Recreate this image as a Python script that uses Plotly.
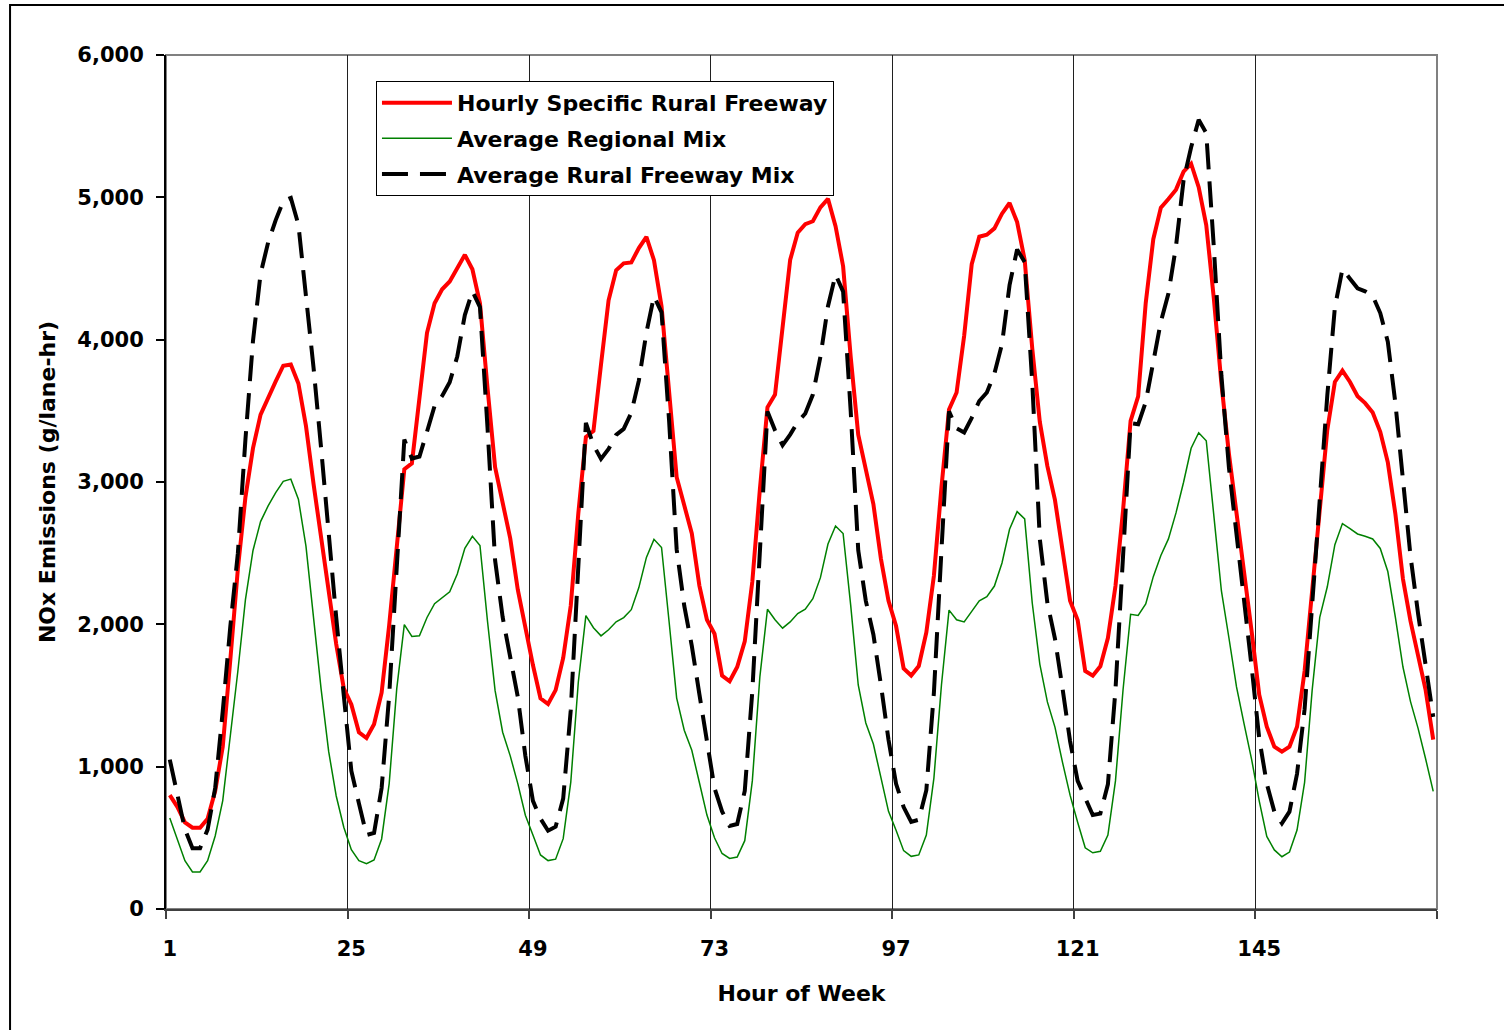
import plotly.graph_objects as go

# ---------------- data ----------------
hours = list(range(1, 169))

hourly_specific_rural_freeway = [
    800, 718, 609, 571, 571, 634, 828, 1140, 1750, 2390, 2894, 3238, 3473, 3582, 3707, 3817, 3826, 3692, 3394, 2987, 2612, 2205, 1861, 1550,
    1437, 1242, 1201, 1298, 1520, 1993, 2548, 3090, 3131, 3600, 4048, 4256, 4354, 4409, 4501, 4596, 4495, 4256, 3660, 3104, 2854, 2604, 2243, 1965,
    1714, 1480, 1440, 1538, 1764, 2131, 2780, 3316, 3358, 3825, 4276, 4488, 4536, 4543, 4643, 4722, 4558, 4234, 3655, 3034, 2836, 2639, 2272, 2032,
    1934, 1640, 1600, 1700, 1880, 2300, 2950, 3525, 3614, 4117, 4560, 4752, 4811, 4832, 4930, 4989, 4797, 4516, 3880, 3333, 3082, 2845, 2460, 2165,
    1988, 1690, 1640, 1707, 1943, 2342, 2963, 3510, 3629, 4028, 4530, 4723, 4737, 4782, 4885, 4960, 4826, 4560, 3939, 3422, 3111, 2874, 2520, 2165,
    2030, 1672, 1639, 1705, 1904, 2269, 2799, 3429, 3601, 4258, 4706, 4928, 4988, 5054, 5180, 5236, 5071, 4805, 4291, 3694, 3197, 2799, 2401, 1950,
    1506, 1281, 1140, 1105, 1140, 1281, 1672, 2264, 2802, 3366, 3703, 3783, 3703, 3603, 3554, 3488, 3353, 3138, 2775, 2318, 2022, 1780, 1538, 1190,
]

average_regional_mix = [
    640, 495, 339, 260, 260, 339, 513, 762, 1201, 1672, 2174, 2519, 2722, 2832, 2926, 3005, 3020, 2879, 2550, 2048, 1546, 1107, 794, 574,
    417, 340, 318, 345, 492, 881, 1548, 1998, 1915, 1920, 2048, 2145, 2187, 2229, 2354, 2534, 2618, 2554, 2020, 1534, 1242, 1076, 881, 659,
    520, 380, 340, 350, 494, 889, 1595, 2061, 1976, 1919, 1962, 2018, 2047, 2103, 2258, 2470, 2597, 2540, 2018, 1482, 1256, 1115, 889, 660,
    500, 390, 355, 365, 480, 900, 1633, 2106, 2032, 1973, 2017, 2076, 2106, 2180, 2328, 2564, 2691, 2638, 2135, 1574, 1307, 1159, 923, 686,
    553, 410, 370, 380, 520, 920, 1574, 2100, 2032, 2017, 2091, 2165, 2194, 2269, 2431, 2668, 2792, 2741, 2150, 1721, 1455, 1278, 1030, 800,
    610, 430, 395, 405, 520, 900, 1539, 2070, 2063, 2143, 2335, 2484, 2600, 2783, 2998, 3237, 3346, 3290, 2766, 2236, 1904, 1560, 1300, 1050,
    760, 510, 415, 367, 400, 555, 890, 1538, 2049, 2264, 2560, 2708, 2673, 2635, 2619, 2600, 2533, 2371, 2049, 1700, 1457, 1269, 1054, 826,
]

average_rural_freeway_mix = [
    1050, 794, 560, 427, 427, 558, 850, 1389, 1985, 2500, 3300, 3993, 4463, 4683, 4840, 4974, 4996, 4808, 4338, 3805, 3240, 2613, 2048, 1500,
    970, 742, 520, 534, 850, 1500, 2382, 3298, 3165, 3179, 3354, 3534, 3604, 3701, 3882, 4173, 4340, 4229, 3380, 2450, 2050, 1770, 1490, 1076,
    760, 635, 550, 578, 776, 1397, 2441, 3415, 3260, 3162, 3232, 3331, 3373, 3486, 3712, 4050, 4305, 4192, 3429, 2526, 2131, 1849, 1510, 1171,
    850, 686, 583, 597, 830, 1530, 2520, 3496, 3363, 3259, 3333, 3422, 3481, 3614, 3880, 4235, 4457, 4338, 3500, 2520, 2165, 1929, 1574, 1189,
    880, 716, 612, 627, 834, 1520, 2520, 3496, 3377, 3348, 3451, 3569, 3629, 3762, 3969, 4383, 4634, 4545, 3700, 2600, 2150, 1900, 1550, 1180,
    900, 780, 660, 670, 876, 1540, 2534, 3413, 3405, 3562, 3844, 4126, 4324, 4656, 5120, 5352, 5545, 5452, 4650, 3750, 3100, 2650, 2200, 1700,
    1200, 880, 684, 602, 684, 950, 1404, 2130, 2909, 3608, 4227, 4496, 4428, 4361, 4340, 4307, 4187, 3985, 3554, 3017, 2479, 2075, 1726, 1350,
]

tick_hours = [1, 25, 49, 73, 97, 121, 145]
tick_labels = [str(h) for h in tick_hours]
day_boundaries = [0.5, 24.5, 48.5, 72.5, 96.5, 120.5, 144.5, 168.5]

# ---------------- figure ----------------
FONT = "DejaVu Sans"

fig = go.Figure()
fig.add_trace(go.Scatter(
    x=hours, y=hourly_specific_rural_freeway, mode="lines",
    name="Hourly Specific Rural Freeway", legendgroup="a",
    line=dict(color="#FF0000", width=4),
))
fig.add_trace(go.Scatter(
    x=hours, y=average_regional_mix, mode="lines",
    name="Average Regional Mix", legendgroup="b",
    line=dict(color="#008000", width=1.5),
))
fig.add_trace(go.Scatter(
    x=hours, y=average_rural_freeway_mix, mode="lines",
    name="Average Rural Freeway Mix", legendgroup="c",
    line=dict(color="#000000", width=4, dash="26px,12px"),
))

fig.update_layout(
    width=1504, height=1030,
    margin=dict(l=166, r=67, t=55, b=121),
    paper_bgcolor="white", plot_bgcolor="white",
    font=dict(family=FONT, size=21, color="black", weight="bold"),
    showlegend=True,
    legend=dict(
        x=0.1652, y=0.9696, xanchor="left", yanchor="top",
        bgcolor="white", bordercolor="black", borderwidth=1,
        font=dict(family=FONT, size=22, color="black", weight="bold"),
        itemwidth=70, tracegroupgap=4, traceorder="grouped",
    ),
    xaxis=dict(
        range=[0.5, 168.5], tickmode="array", tickvals=tick_hours, ticktext=tick_labels,
        ticks="", showgrid=False, zeroline=False,
        showline=True, linecolor="#404040", linewidth=2,
        tickfont=dict(family=FONT, size=21, color="black", weight="bold"),
        ticklabelstandoff=20,
        minor=dict(tickmode="array", tickvals=day_boundaries, ticks="outside", ticklen=8,
                   tickcolor="#404040", tickwidth=1.5,
                   showgrid=True, gridcolor="#202020", gridwidth=1),
        title=dict(text="Hour of Week", standoff=25,
                   font=dict(family=FONT, size=22, color="black", weight="bold")),
    ),
    yaxis=dict(
        range=[0, 6000], tickmode="linear", tick0=0, dtick=1000, tickformat=",",
        ticks="outside", ticklen=8, tickcolor="black", tickwidth=1.5,
        showgrid=False, zeroline=False,
        showline=True, linecolor="black", linewidth=2,
        tickfont=dict(family=FONT, size=21, color="black", weight="bold"),
        ticklabelstandoff=8,
        title=dict(text="NOx Emissions (g/lane-hr)", standoff=16,
                   font=dict(family=FONT, size=22, color="black", weight="bold")),
    ),
    shapes=[
        # grey frame of the plot area (top and right edges)
        dict(type="rect", xref="paper", yref="paper", x0=0, x1=1, y0=0, y1=1,
             line=dict(color="#808080", width=2), fillcolor="rgba(0,0,0,0)", layer="below"),
        # outer chart border
        dict(type="rect", xref="paper", yref="paper", x0=-0.1227, x1=1.06, y0=-0.16, y1=1.0585,
             line=dict(color="black", width=2), fillcolor="rgba(0,0,0,0)", layer="above"),
    ],
)

fig.write_html("out.html", config={"displayModeBar": False},
               post_script="document.body.style.margin='0';")
